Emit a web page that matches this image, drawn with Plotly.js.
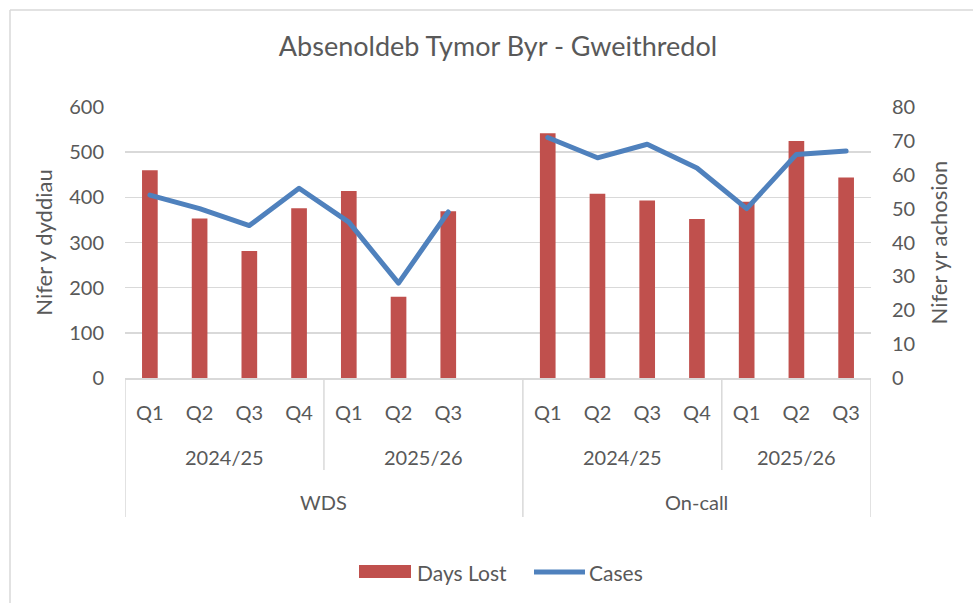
<!DOCTYPE html>
<html>
<head>
<meta charset="utf-8">
<script src="https://cdn.plot.ly/plotly-3.0.1.min.js"></script>
<style>
  html, body { margin: 0; padding: 0; background: #fff; }
  #chart { width: 973px; height: 603px; }
  .scatterlayer .js-line { stroke-linejoin: round !important; stroke-linecap: round !important; }
</style>
</head>
<body>
<div id="chart"></div>
<script>
// ---- Data ----
const groups   = ['WDS','WDS','WDS','WDS','WDS','WDS','WDS','WDS',
                  'On-call','On-call','On-call','On-call','On-call','On-call','On-call'];
const years    = ['2024/25','2024/25','2024/25','2024/25','2025/26','2025/26','2025/26','2025/26',
                  '2024/25','2024/25','2024/25','2024/25','2025/26','2025/26','2025/26'];
const quarters = ['Q1','Q2','Q3','Q4','Q1','Q2','Q3','',
                  'Q1','Q2','Q3','Q4','Q1','Q2','Q3'];
const daysLost = [460, 353, 281, 376, 414, 180, 369, null,
                  542, 408, 393, 352, 390, 525, 444];
const cases    = [54, 50, 45, 56, 46, 28, 49, null,
                  71, 65, 69, 62, 50, 66, 67];

const leftTicks  = [0, 100, 200, 300, 400, 500, 600];
const rightTicks = [0, 10, 20, 30, 40, 50, 60, 70, 80];

// ---- Styling ----
const W = 973, H = 603;
const M = {l: 125, r: 102, t: 107, b: 225};
const PW = W - M.l - M.r, PH = H - M.t - M.b;
const TXT = '#595959', GRID = '#D9D9D9';
const FONT = 'Lato, "Open Sans", sans-serif';
const RED = '#C0504D', BLUE = '#4F81BD';

const idx = quarters.map((_, i) => i);
const px2x = p => (p - M.l) / PW;     // pixel -> paper x
const py2y = p => (H - M.b - p) / PH; // pixel -> paper y

// runs of equal values for the category levels
function runs(arr) {
  const out = [];
  let s = 0;
  for (let i = 1; i <= arr.length; i++) {
    if (i === arr.length || arr[i] !== arr[s] ||
        (arr === years && groups[i] !== groups[s])) {
      out.push({label: arr[s], start: s, end: i - 1});
      s = i;
    }
  }
  return out;
}
const yearRuns = runs(years);
const groupRuns = runs(groups);

const shapes = [];
const annotations = [];
const yearBottom = py2y(470), groupBottom = py2y(517);

// dividers
groupRuns.forEach((g, k) => {
  if (k === 0) shapes.push({type:'line', xref:'x', yref:'paper', x0:g.start-0.5, x1:g.start-0.5, y0:0, y1:groupBottom, line:{color:GRID, width:1.5}});
  shapes.push({type:'line', xref:'x', yref:'paper', x0:g.end+0.5, x1:g.end+0.5, y0:0, y1:groupBottom, line:{color:GRID, width:1.5}});
  annotations.push({xref:'x', yref:'paper', x:(g.start+g.end)/2, y:py2y(502), text:g.label, showarrow:false,
    xanchor:'center', yanchor:'middle', font:{family:FONT, size:20, color:TXT}});
});
yearRuns.forEach(r => {
  const isGroupEnd = groupRuns.some(g => g.end === r.end);
  if (!isGroupEnd) shapes.push({type:'line', xref:'x', yref:'paper', x0:r.end+0.5, x1:r.end+0.5, y0:0, y1:yearBottom, line:{color:GRID, width:1.5}});
  annotations.push({xref:'x', yref:'paper', x:(r.start+r.end)/2, y:py2y(457), text:r.label, showarrow:false,
    xanchor:'center', yanchor:'middle', font:{family:FONT, size:20, color:TXT}});
});

// chart border (top & left visible)
shapes.push({type:'line', xref:'paper', yref:'paper', x0:px2x(10), x1:px2x(973), y0:py2y(10), y1:py2y(10), line:{color:GRID, width:1.5}});
shapes.push({type:'line', xref:'paper', yref:'paper', x0:px2x(10), x1:px2x(10), y0:py2y(10), y1:py2y(603), line:{color:GRID, width:1.5}});

// custom legend
shapes.push({type:'rect', xref:'paper', yref:'paper', x0:px2x(359), x1:px2x(411), y0:py2y(578), y1:py2y(565), fillcolor:RED, line:{width:0}});
annotations.push({xref:'paper', yref:'paper', x:px2x(415), y:py2y(572), text:'Days Lost', showarrow:false, xanchor:'left', yanchor:'middle', font:{family:FONT, size:21, color:TXT}});
shapes.push({type:'line', xref:'paper', yref:'paper', x0:px2x(534), x1:px2x(585), y0:py2y(572), y1:py2y(572), line:{color:BLUE, width:5}});
annotations.push({xref:'paper', yref:'paper', x:px2x(587), y:py2y(572), text:'Cases', showarrow:false, xanchor:'left', yanchor:'middle', font:{family:FONT, size:21, color:TXT}});

const traces = [
  {type:'bar', name:'Days Lost', x:idx, y:daysLost, marker:{color:RED, line:{width:0}}, hoverinfo:'y+name'},
  {type:'scatter', mode:'lines', name:'Cases', x:idx, y:cases, yaxis:'y2', connectgaps:false,
   line:{color:BLUE, width:5}, hoverinfo:'y+name'}
];

const layout = {
  width: W, height: H,
  margin: M,
  paper_bgcolor: '#fff', plot_bgcolor: '#fff',
  font: {family: FONT, color: TXT, size: 20},
  showlegend: false,
  bargap: 0.685,
  title: {text:'Absenoldeb Tymor Byr - Gweithredol', x:0.5, xref:'paper', xanchor:'center',
          y: 1 - 47/H, yref:'container', yanchor:'middle', font:{family:FONT, size:27, color:TXT}},
  xaxis: {range:[-0.5, 14.5], tickvals:idx, ticktext:quarters, showgrid:false, zeroline:false,
          showline:true, linecolor:GRID, linewidth:1.5, ticks:'', ticklabelstandoff:16,
          tickfont:{family:FONT, size:20, color:TXT}, fixedrange:true},
  yaxis: {range:[0, 600], tickvals:leftTicks, showgrid:true, gridcolor:GRID, gridwidth:1.5,
          zeroline:false, showline:false, ticks:'', ticklabelstandoff:20,
          tickfont:{family:FONT, size:20, color:TXT},
          title:{text:'Nifer y dyddiau', font:{family:FONT, size:22, color:TXT}, standoff:10}},
  yaxis2: {range:[0, 80], tickvals:rightTicks, overlaying:'y', side:'right', showgrid:false,
           zeroline:false, showline:false, ticks:'', ticklabelstandoff:20,
           tickfont:{family:FONT, size:20, color:TXT},
           title:{text:'Nifer yr achosion', font:{family:FONT, size:22, color:TXT}, standoff:17}},
  shapes: shapes,
  annotations: annotations
};

Plotly.newPlot('chart', traces, layout, {displayModeBar:false, staticPlot:true});
</script>
</body>
</html>
